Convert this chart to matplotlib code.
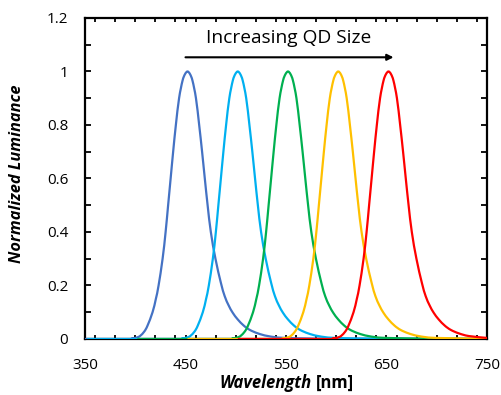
import matplotlib
matplotlib.use("Agg")
import matplotlib.pyplot as plt
from matplotlib.ticker import MultipleLocator
from matplotlib.path import Path
from matplotlib.patches import PathPatch

plt.rcParams['font.family'] = ['Open Sans', 'DejaVu Sans']

# emission spectra (wavelength in nm, normalized luminance)
blue_nm = [302, 392, 396, 402, 405, 409, 412.2, 417.2, 420.5, 423.2, 427.2, 430.2, 432.7, 435.2, 437.7,
           440.4, 443.6, 447, 449.5, 452, 454.5, 457, 460.4, 463.6, 466.5, 469.2, 472, 475.2,
           479.8, 485.2, 489, 493, 497, 502, 508, 514, 522, 532, 549, 600, 750]
blue_lum = [0, 0, 0.001, 0.006, 0.012, 0.028, 0.05, 0.1, 0.15, 0.2, 0.3, 0.4, 0.5, 0.6, 0.7,
            0.8, 0.9, 0.965, 0.99, 1, 0.99, 0.965, 0.9, 0.8, 0.7, 0.6, 0.5, 0.4,
            0.3, 0.21, 0.16, 0.125, 0.098, 0.073, 0.05, 0.034, 0.021, 0.011, 0.004, 0.001, 0]

cyan_nm = [352, 442, 446, 452, 455, 459, 462.2, 467.2, 470.5, 473.2, 477.2, 480.2, 482.7, 485.2, 487.7,
           490.4, 493.6, 497, 499.5, 502, 504.5, 507, 510.4, 513.6, 516.5, 519.2, 522, 525.2,
           529.8, 535.2, 539, 543, 547, 552, 558, 564, 572, 582, 599, 650, 750]
cyan_lum = [0, 0, 0.001, 0.006, 0.012, 0.028, 0.05, 0.1, 0.15, 0.2, 0.3, 0.4, 0.5, 0.6, 0.7,
            0.8, 0.9, 0.965, 0.99, 1, 0.99, 0.965, 0.9, 0.8, 0.7, 0.6, 0.5, 0.4,
            0.3, 0.21, 0.16, 0.125, 0.098, 0.073, 0.05, 0.034, 0.021, 0.011, 0.004, 0.001, 0]

green_nm = [402, 492, 496, 502, 505, 509, 512.2, 517.2, 520.5, 523.2, 527.2, 530.2, 532.7, 535.2, 537.7,
            540.4, 543.6, 547, 549.5, 552, 554.5, 557, 560.4, 563.6, 566.5, 569.2, 572, 575.2,
            579.8, 585.2, 589, 593, 597, 602, 608, 614, 622, 632, 649, 700, 750]
green_lum = [0, 0, 0.001, 0.006, 0.012, 0.028, 0.05, 0.1, 0.15, 0.2, 0.3, 0.4, 0.5, 0.6, 0.7,
             0.8, 0.9, 0.965, 0.99, 1, 0.99, 0.965, 0.9, 0.8, 0.7, 0.6, 0.5, 0.4,
             0.3, 0.21, 0.16, 0.125, 0.098, 0.073, 0.05, 0.034, 0.021, 0.011, 0.004, 0.001, 0]

gold_nm = [452, 542, 546, 552, 555, 559, 562.2, 567.2, 570.5, 573.2, 577.2, 580.2, 582.7, 585.2, 587.7,
           590.4, 593.6, 597, 599.5, 602, 604.5, 607, 610.4, 613.6, 616.5, 619.2, 622, 625.2,
           629.8, 635.2, 639, 643, 647, 652, 658, 664, 672, 682, 699, 750]
gold_lum = [0, 0, 0.001, 0.006, 0.012, 0.028, 0.05, 0.1, 0.15, 0.2, 0.3, 0.4, 0.5, 0.6, 0.7,
            0.8, 0.9, 0.965, 0.99, 1, 0.99, 0.965, 0.9, 0.8, 0.7, 0.6, 0.5, 0.4,
            0.3, 0.21, 0.16, 0.125, 0.098, 0.073, 0.05, 0.034, 0.021, 0.011, 0.004, 0.001]

red_nm = [502, 592, 596, 602, 605, 609, 612.2, 617.2, 620.5, 623.2, 627.2, 630.2, 632.7, 635.2, 637.7,
          640.4, 643.6, 647, 649.5, 652, 654.5, 657, 660.4, 663.6, 666.5, 669.2, 672, 675.2,
          679.8, 685.2, 689, 693, 697, 702, 708, 714, 722, 732, 750]
red_lum = [0, 0, 0.001, 0.006, 0.012, 0.028, 0.05, 0.1, 0.15, 0.2, 0.3, 0.4, 0.5, 0.6, 0.7,
           0.8, 0.9, 0.965, 0.99, 1, 0.99, 0.965, 0.9, 0.8, 0.7, 0.6, 0.5, 0.4,
           0.3, 0.21, 0.16, 0.125, 0.098, 0.073, 0.05, 0.034, 0.021, 0.011, 0.004]

series = [
    (blue_nm, blue_lum, '#4472C4'),
    (cyan_nm, cyan_lum, '#00B0F0'),
    (green_nm, green_lum, '#00B050'),
    (gold_nm, gold_lum, '#FFC000'),
    (red_nm, red_lum, '#FF0000'),
]

x_ticks = [350, 450, 550, 650, 750]
y_ticks = [0, 0.2, 0.4, 0.6, 0.8, 1.0, 1.2]
y_tick_labels = ['0', '0.2', '0.4', '0.6', '0.8', '1', '1.2']


def smooth_path(xs, ys):
    # Excel-style smoothed line: cubic Bezier through the points (Catmull-Rom control points)
    n = len(xs)
    verts = [(xs[0], ys[0])]
    codes = [Path.MOVETO]
    for i in range(n - 1):
        i0, i2, i3 = max(i - 1, 0), i + 1, min(i + 2, n - 1)
        c1 = (xs[i] + (xs[i2] - xs[i0]) / 6, ys[i] + (ys[i2] - ys[i0]) / 6)
        c2 = (xs[i2] - (xs[i3] - xs[i]) / 6, ys[i2] - (ys[i3] - ys[i]) / 6)
        verts += [c1, c2, (xs[i2], ys[i2])]
        codes += [Path.CURVE4] * 3
    return Path(verts, codes)


fig = plt.figure(figsize=(5.01, 3.95), dpi=100)
ax = fig.add_axes([0.1697, 0.1418, 0.8023, 0.8127])

for nm, lum, color in series:
    ax.add_patch(PathPatch(smooth_path(nm, lum), facecolor='none', edgecolor=color,
                           lw=1.6, joinstyle='round', zorder=3))

ax.set_xlim(350, 750)
ax.set_ylim(0, 1.2)
ax.set_xticks(x_ticks)
ax.xaxis.set_minor_locator(MultipleLocator(20))
ax.set_yticks(y_ticks)
ax.set_yticklabels(y_tick_labels)
ax.yaxis.set_minor_locator(MultipleLocator(0.1))

ax.tick_params(which='both', direction='in', top=True, right=True, width=1.3, color='black')
ax.tick_params(axis='x', which='both', length=3)
ax.tick_params(axis='y', which='both', length=4)
ax.tick_params(axis='x', which='major', labelsize=11, pad=14)
ax.tick_params(axis='y', which='major', labelsize=11, pad=12)

for sp in ax.spines.values():
    sp.set_linewidth(1.6)
    sp.set_color('black')

ax.set_ylabel('Normalized Luminance', fontsize=11.8, fontweight='bold', fontstyle='italic')
ax.yaxis.set_label_coords(-0.149, 0.516)
fig.text(0.623, 0.031, 'Wavelength', fontsize=12, fontweight='bold', fontstyle='italic',
         ha='right', va='center')
fig.text(0.631, 0.031, '[nm]', fontsize=12, fontweight='bold', ha='left', va='center')

ax.annotate('', xy=(657, 1.053), xytext=(450, 1.053),
            arrowprops=dict(arrowstyle='-|>', lw=1.5, color='black', mutation_scale=9,
                            shrinkA=0, shrinkB=0))
ax.text(553, 1.125, 'Increasing QD Size', fontsize=13.8, ha='center', va='center')

fig.savefig('out.png', dpi=100)
